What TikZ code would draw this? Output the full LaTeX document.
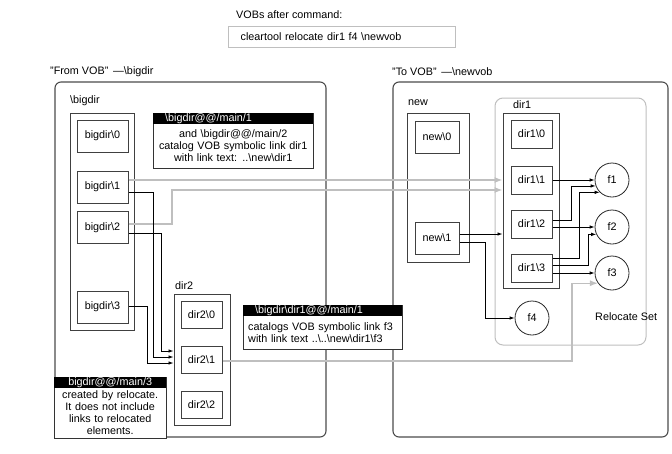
\documentclass[tikz,border=0pt]{standalone}
\usepackage{fontspec}
\setmainfont{Liberation Sans}
\usetikzlibrary{arrows.meta, calc, positioning}

\newcommand{\bsl}{\textbackslash}

\begin{document}
\begin{tikzpicture}[x=1pt, y=-1pt, font=\fontsize{10.8}{12}\selectfont,
		panel/.style={draw=black!70, line width=1.1pt, rounded corners=6pt, inner sep=0pt},
		column/.style={draw=black!75, line width=1pt, inner sep=0pt},
		ver/.style={draw=black!75, line width=1pt, inner sep=0pt},
		elem/.style={circle, draw=black!85, line width=0.8pt, minimum size=34pt, inner sep=0pt},
		lbl/.style={anchor=west, inner sep=0pt},
		nhead/.style={fill=black, text=white, anchor=north west, inner sep=0pt, minimum height=11pt},
		nbody/.style={draw=black!80, line width=0.8pt, fill=white, inner ysep=0pt},
		arr/.style={-{Latex[length=5pt,width=3.5pt]}, line width=0.8pt},
		garr/.style={-{Latex[length=8pt,width=6pt]}, draw=black!25, line width=1.2pt}]
	\useasboundingbox (0,0) rectangle (672,453);
	% command
	\node[lbl] (cap) at (236,15) {VOBs after command:};
	\node[draw=black!25, line width=1.2pt, anchor=north west, minimum height=21pt,
		text width=203pt, inner xsep=12pt, align=left] (cmd) at (228,26)
		{cleartool relocate dir1 f4 \bsl newvob};
	% from VOB
	\node[lbl] (fromlbl) at (50,72) {"From VOB" \,—\bsl bigdir};
	\node[panel, minimum width=271pt, minimum height=355pt] (from) at (190.5,259.5) {};
	\node[lbl] (biglbl) at (70,101) {\bsl bigdir};
	\node[column, minimum width=64pt, minimum height=217pt] (bigcol) at (102,221.5) {};
	\node[ver, minimum width=51pt, minimum height=32pt] (b0) at (102.5,136) {bigdir\bsl 0};
	\node[ver, minimum width=51pt, minimum height=32pt] (b1) at (102.5,187) {bigdir\bsl 1};
	\node[ver, minimum width=51pt, minimum height=32pt] (b2) at (102.5,227.5) {bigdir\bsl 2};
	\node[ver, minimum width=51pt, minimum height=32pt] (b3) at (102.5,307) {bigdir\bsl 3};
	\node[lbl] (d2lbl) at (175,286) {dir2};
	\node[column, minimum width=56pt, minimum height=131pt] (d2col) at (202,359.5) {};
	\node[ver, minimum width=41pt, minimum height=27pt] (d20) at (201.5,314.5) {dir2\bsl 0};
	\node[ver, minimum width=41pt, minimum height=27pt] (d21) at (201.5,359.5) {dir2\bsl 1};
	\node[ver, minimum width=41pt, minimum height=27pt] (d22) at (201.5,404.5) {dir2\bsl 2};
	% to VOB
	\node[lbl] (tolbl) at (392,72) {"To VOB" \,—\bsl newvob};
	\node[panel, minimum width=275pt, minimum height=355pt] (to) at (530.5,259.5) {};
	\node[draw=black!25, line width=1pt, rounded corners=8pt, minimum width=151pt,
		minimum height=247pt] (relset) at (570.5,221.5) {};
	\node[lbl] (rellbl) at (595,317) {Relocate Set};
	\node[lbl] (newlbl) at (408,103) {new};
	\node[column, minimum width=62pt, minimum height=149pt] (newcol) at (438,187.5) {};
	\node[ver, minimum width=44pt, minimum height=32pt] (n0) at (437,137) {new\bsl 0};
	\node[ver, minimum width=44pt, minimum height=32pt] (n1) at (437,238) {new\bsl 1};
	\node[lbl] (d1lbl) at (513,105) {dir1};
	\node[column, minimum width=56pt, minimum height=175pt] (d1col) at (531,200.5) {};
	\node[ver, minimum width=41pt, minimum height=28pt] (e0) at (531.5,134) {dir1\bsl 0};
	\node[ver, minimum width=41pt, minimum height=28pt] (e1) at (531.5,180) {dir1\bsl 1};
	\node[ver, minimum width=41pt, minimum height=28pt] (e2) at (531.5,224) {dir1\bsl 2};
	\node[ver, minimum width=41pt, minimum height=28pt] (e3) at (531.5,268) {dir1\bsl 3};
	\node[elem] (f1) at (612,180) {f1};
	\node[elem] (f2) at (612,227) {f2};
	\node[elem] (f3) at (612,273) {f3};
	\node[elem] (f4) at (532,318) {f4};
	% symbolic links
	\draw[garr] (b1.east |- 0,180) -- (d1col.west |- 0,180);
	\draw[garr] (b2.east |- 0,224) -| (172,190) -- (d1col.west |- 0,190);
	\draw[garr] (d21.east |- 0,361) -- (572,361) |- (f3.216);
	% directory entries
	\draw[arr] (b2.east |- 0,233) -| (161,351) -- (d2col.west |- 0,351);
	\draw[arr] (b1.east |- 0,192) -| (153,357) -- (d2col.west |- 0,357);
	\draw[arr] (b3.east |- 0,306) -| (147,363) -- (d2col.west |- 0,363);
	\draw[arr] (n1.east |- 0,234) -- (d1col.west |- 0,234);
	\draw[arr] (n1.east |- 0,242) -- (485,242) |- (f4.west);
	\draw[arr] (e1.east) -- (f1.west);
	\draw[arr] (e2.east |- 0,220) -- (571,220) |- (f1.200);
	\draw[arr] (e2.east |- 0,227) -- (f2.west);
	\draw[arr] (e3.east |- 0,258) -- (579,258) |- (f1.225);
	\draw[arr] (e3.east |- 0,265) -- (588,265) |- (f2.205);
	\draw[arr] (e3.east |- 0,273) -- (f3.west);
	% notes
	\node[nbody, anchor=north west, minimum width=160pt, minimum height=55pt] (n1b) at (153,113) {};
	\node[nhead, minimum width=160pt, text width=136pt, inner xsep=12pt, align=left] (n1h) at (153,113) {\bsl bigdir@@/main/1};
	\node[below=0pt of n1h, text width=152pt, inner sep=0pt, align=center, minimum height=42pt] (n1t)
		{and \bsl bigdir@@/main/2\\ catalog VOB symbolic link dir1\\ with link text: ..\bsl new\bsl dir1};
	\node[nbody, anchor=north west, minimum width=159pt, minimum height=44pt] (n2b) at (243,305) {};
	\node[nhead, minimum width=159pt, text width=135pt, inner xsep=12pt, align=left] (n2h) at (243,305) {\bsl bigdir\bsl dir1@@/main/1};
	\node[below=0pt of n2h, text width=149pt, inner sep=0pt, align=left, minimum height=32pt] (n2t)
		{catalogs VOB symbolic link f3\\ with link text ..\bsl..\bsl new\bsl dir1\bsl f3};
	\node[nbody, anchor=north west, minimum width=112pt, minimum height=61pt] (n3b) at (54,377) {};
	\node[nhead, minimum width=112pt] (n3h) at (54,377) {bigdir@@/main/3};
	\node[below=0pt of n3h, text width=108pt, inner sep=0pt, align=center, minimum height=48pt] (n3t)
		{created by relocate.\\ It does not include\\ links to relocated\\ elements.};
\end{tikzpicture}
\end{document}
